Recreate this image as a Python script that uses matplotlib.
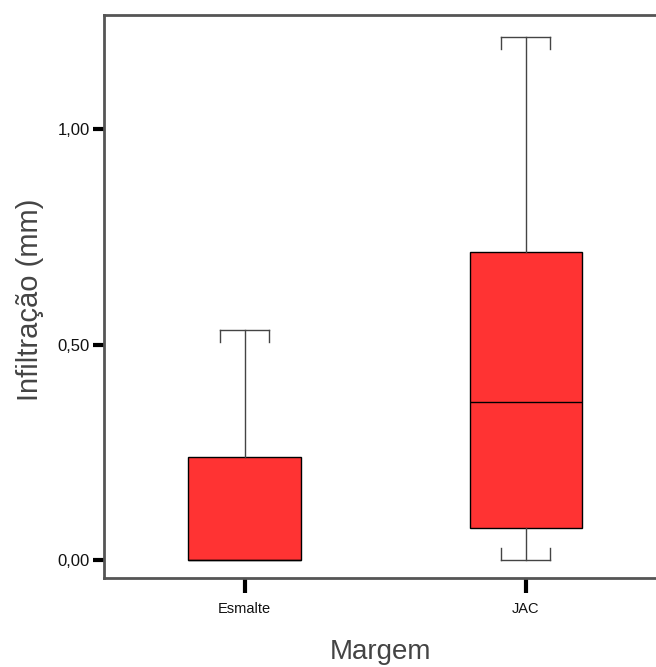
import matplotlib
matplotlib.use('Agg')
import matplotlib.pyplot as plt

plt.rcParams['font.family'] = ['Liberation Sans', 'DejaVu Sans']

# dados
grupos = ['Esmalte', 'JAC']
minimo = [0.0, 0.0]
q1 = [0.0, 0.074]
mediana = [0.0, 0.367]
q3 = [0.239, 0.715]
maximo = [0.534, 1.213]
yticks = [0.0, 0.5, 1.0]
ytick_labels = ['0,00', '0,50', '1,00']

stats = []
for i, g in enumerate(grupos):
    stats.append(dict(label=g, whislo=minimo[i], q1=q1[i], med=mediana[i],
                      q3=q3[i], whishi=maximo[i], fliers=[]))

fig = plt.figure(figsize=(6.56, 6.67), dpi=100)
ax = fig.add_axes([104 / 656, 89 / 667, 562.5 / 656, 563 / 667])

pos = [1, 2]
bp = ax.bxp(stats, positions=pos, widths=0.4, capwidths=0.175, patch_artist=True,
            boxprops=dict(facecolor='#ff3333', edgecolor='black', linewidth=1),
            medianprops=dict(color='black', linewidth=1),
            whiskerprops=dict(color='#444444', linewidth=1),
            capprops=dict(color='#444444', linewidth=1))

# sem bigode quando coincide com a caixa
for i in range(len(grupos)):
    if minimo[i] == q1[i]:
        bp['caps'][2 * i].set_visible(False)
    if maximo[i] == q3[i]:
        bp['caps'][2 * i + 1].set_visible(False)

# pequenas hastes nas extremidades das barras dos bigodes
cw = 0.175 / 2
h = 0.028
for p, lo, a, b, hi in zip(pos, minimo, q1, q3, maximo):
    for dx in (-cw, cw):
        if hi > b:
            ax.plot([p + dx, p + dx], [hi, hi - h], color='#444444', lw=1)
        if lo < a:
            ax.plot([p + dx, p + dx], [lo, lo + h], color='#444444', lw=1)

ax.set_xlim(0.5, 2.5)
ax.set_ylim(-0.042, 1.265)
ax.set_yticks(yticks)
ax.set_yticklabels(ytick_labels, fontsize=12, color='#111111')
ax.set_xticks(pos)
ax.set_xticklabels(grupos, fontsize=10.5, color='#111111')

ax.tick_params(axis='y', length=8, width=3, color='black', pad=2)
ax.tick_params(axis='x', length=11, width=3, color='black', pad=6)

for s in ['left', 'top', 'bottom']:
    ax.spines[s].set_color('#555555')
    ax.spines[s].set_linewidth(2)
ax.spines['right'].set_visible(False)

fig.text(30 / 656, 1 - 300 / 667, 'Infiltração (mm)', rotation=90,
         fontsize=21, color='#444444', ha='center', va='center')
fig.text(380 / 656, 1 - 652 / 667, 'Margem', fontsize=20, color='#444444',
         ha='center', va='center')

plt.savefig('out.png', dpi=100)
